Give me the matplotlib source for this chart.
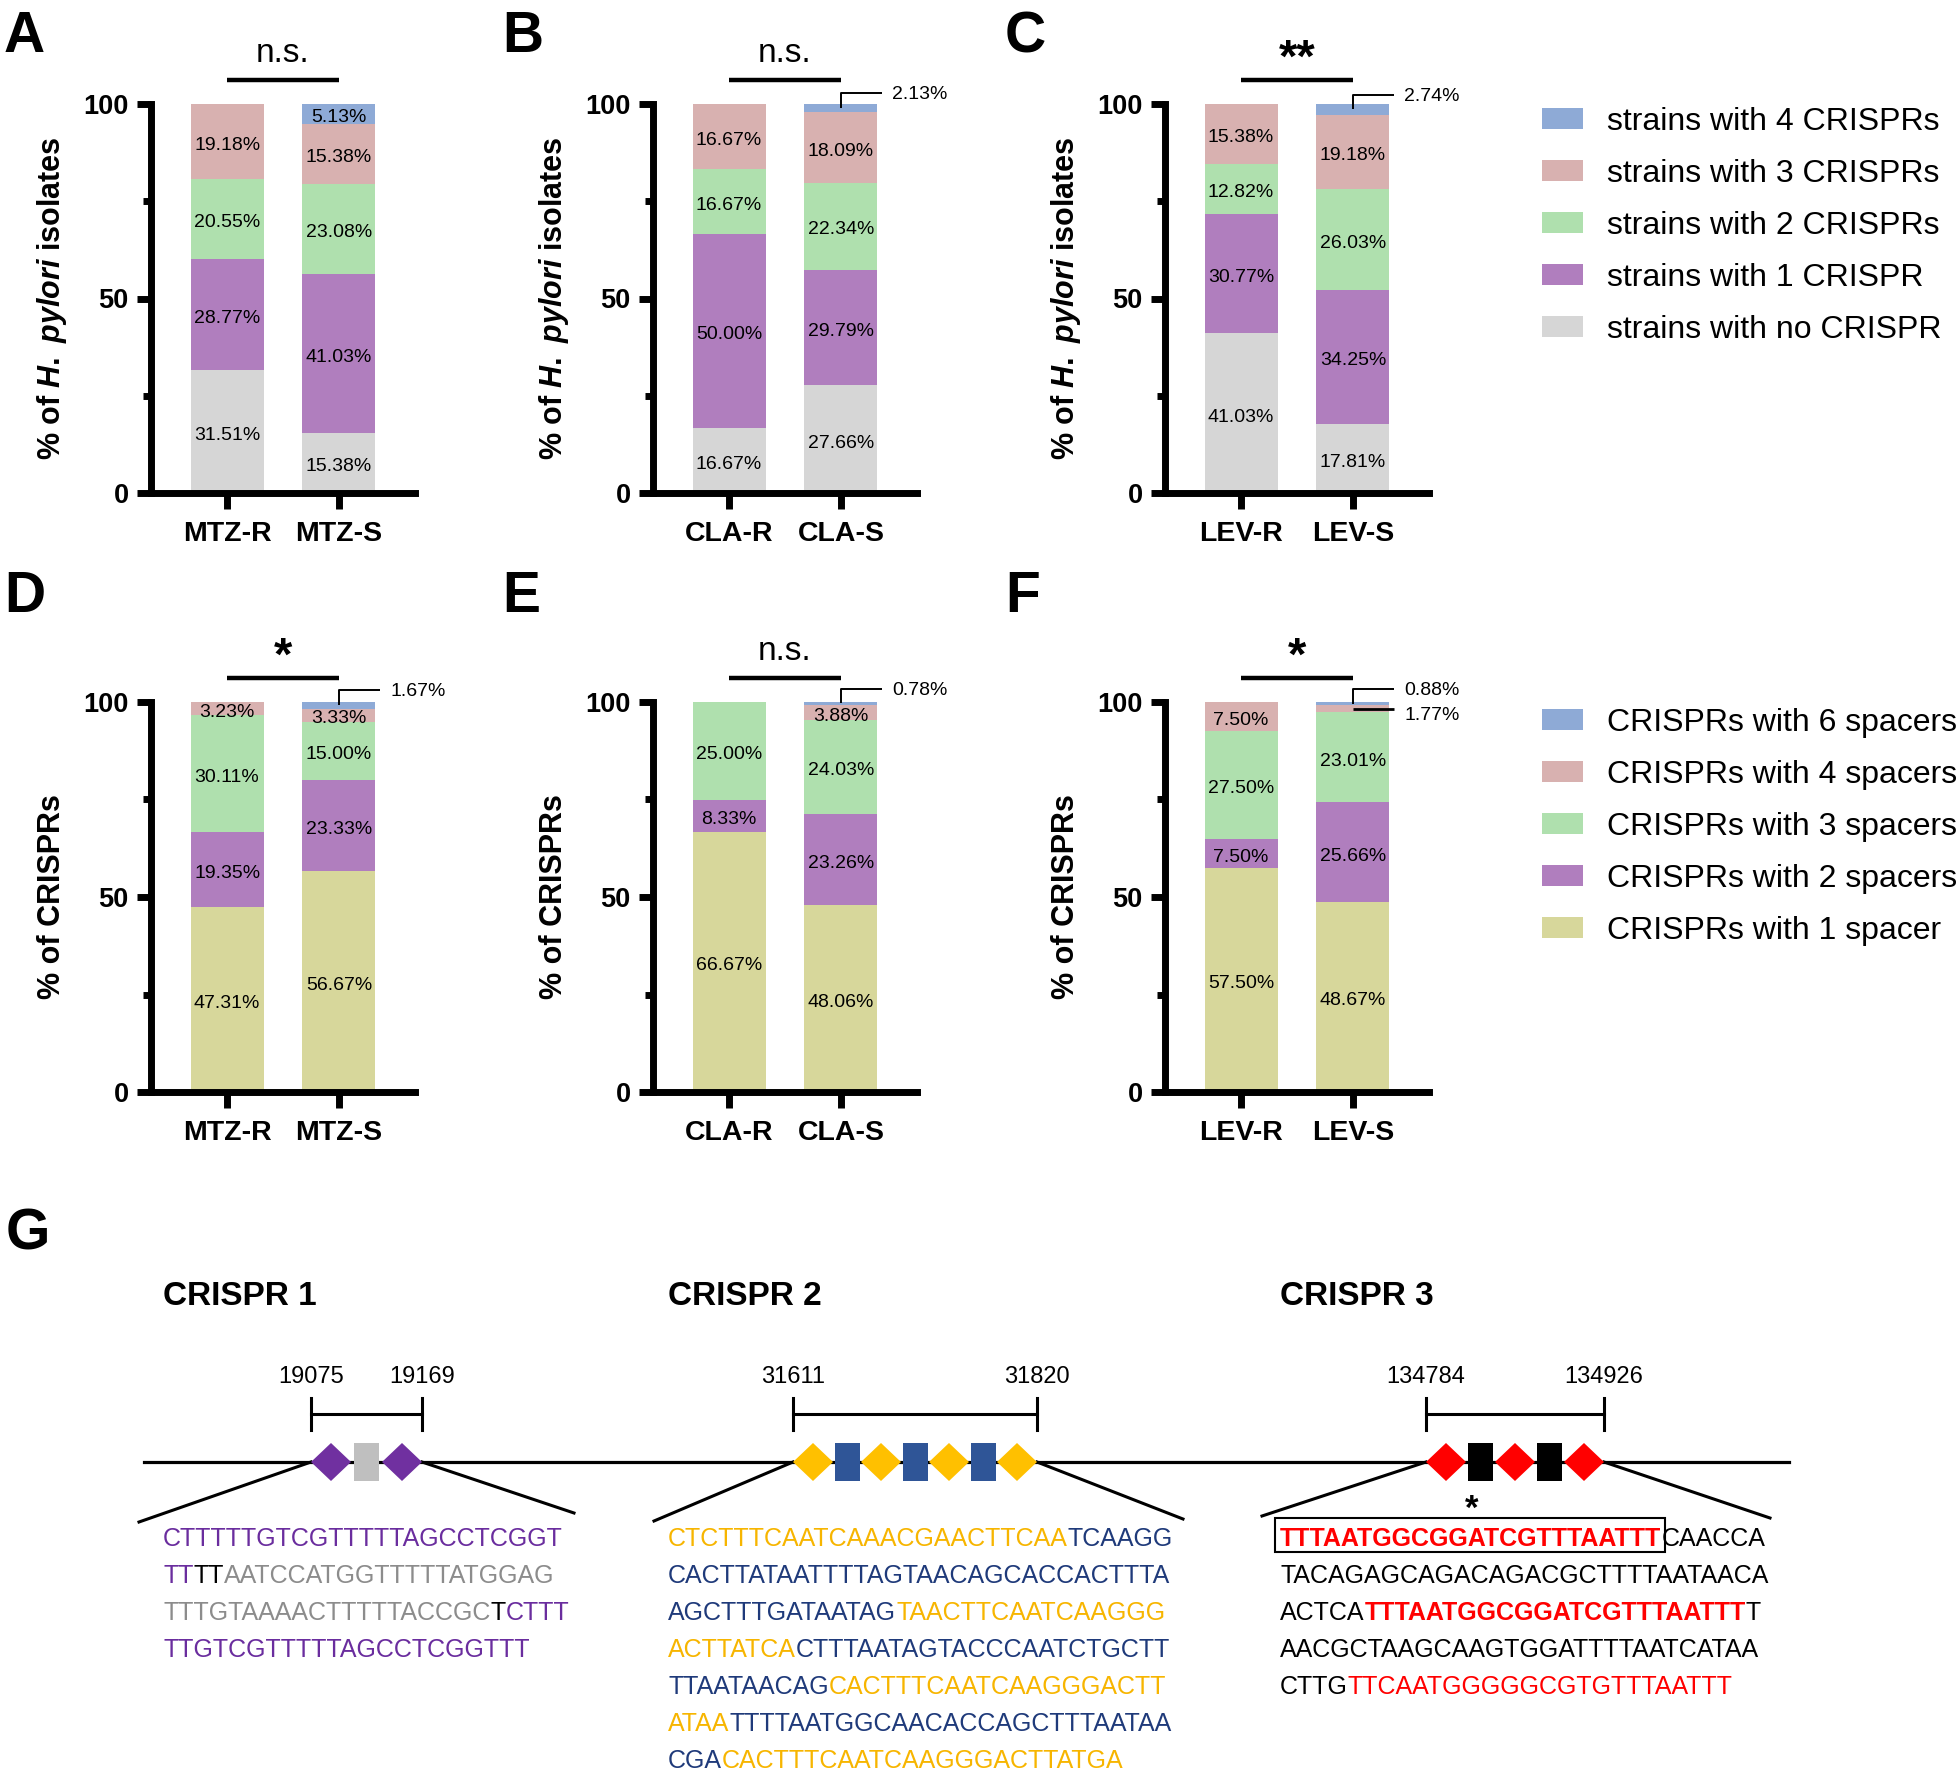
import numpy as np
import matplotlib
matplotlib.use('Agg')
import matplotlib.pyplot as plt
from matplotlib.patches import Patch, Polygon, Rectangle

plt.rcParams['font.family'] = 'Liberation Sans'
plt.rcParams['mathtext.fontset'] = 'custom'
plt.rcParams['mathtext.rm'] = 'Liberation Sans:bold'
plt.rcParams['mathtext.it'] = 'Liberation Sans:italic:bold'

W, H = 1960, 1772

# ---------------- data: stacked bars (stack order bottom -> top) ----------------
strain_labels = ['strains with no CRISPR', 'strains with 1 CRISPR', 'strains with 2 CRISPRs',
                 'strains with 3 CRISPRs', 'strains with 4 CRISPRs']
spacer_labels = ['CRISPRs with 1 spacer', 'CRISPRs with 2 spacers', 'CRISPRs with 3 spacers',
                 'CRISPRs with 4 spacers', 'CRISPRs with 6 spacers']
strain_colors = ['#d6d6d6', '#b07ebe', '#afe0ae', '#d8b1b0', '#8eaad6']
spacer_colors = ['#d7d79b', '#b07ebe', '#afe0ae', '#d8b1b0', '#8eaad6']

mtz = ['MTZ-R', 'MTZ-S']
cla = ['CLA-R', 'CLA-S']
lev = ['LEV-R', 'LEV-S']

# % of H. pylori isolates
mtz_strains = [[31.51, 28.77, 20.55, 19.18, 0.00],
               [15.38, 41.03, 23.08, 15.38, 5.13]]
cla_strains = [[16.67, 50.00, 16.67, 16.67, 0.00],
               [27.66, 29.79, 22.34, 18.09, 2.13]]
lev_strains = [[41.03, 30.77, 12.82, 15.38, 0.00],
               [17.81, 34.25, 26.03, 19.18, 2.74]]
# % of CRISPRs
mtz_spacers = [[47.31, 19.35, 30.11, 3.23, 0.00],
               [56.67, 23.33, 15.00, 3.33, 1.67]]
cla_spacers = [[66.67, 8.33, 25.00, 0.00, 0.00],
               [48.06, 23.26, 24.03, 3.88, 0.78]]
lev_spacers = [[57.50, 7.50, 27.50, 7.50, 0.00],
               [48.67, 25.66, 23.01, 1.77, 0.88]]

sig_strains = ['n.s.', 'n.s.', '**']
sig_spacers = ['*', 'n.s.', '*']

# ---------------- data: panel G ----------------
crispr_names = ['CRISPR 1', 'CRISPR 2', 'CRISPR 3']
crispr_start = ['19075', '31611', '134784']
crispr_end = ['19169', '31820', '134926']
crispr_units = ['RSR', 'RSRSRSR', 'RSRSR']   # R = repeat, S = spacer
repeat_col = ['#7030a0', '#ffc000', '#ff0000']
spacer_col = ['#bfbfbf', '#2f5597', '#000000']

PUR, GRY, ORG, NAV, RED, BLK = '#6a2d9e', '#8c8c8c', '#f7b500', '#1f3a7a', '#ff0000', '#000000'
seq1 = [[('CTTTTTGTCGTTTTTAGCCTCGGT', PUR, 'normal')],
        [('TT', PUR, 'normal'), ('TT', BLK, 'normal'), ('AATCCATGGTTTTTATGGAG', GRY, 'normal')],
        [('TTTGTAAAACTTTTTACCGC', GRY, 'normal'), ('T', BLK, 'normal'), ('CTTT', PUR, 'normal')],
        [('TTGTCGTTTTTAGCCTCGGTTT', PUR, 'normal')]]
seq2 = [[('CTCTTTCAATCAAACGAACTTCAA', ORG, 'normal'), ('TCAAGG', NAV, 'normal')],
        [('CACTTATAATTTTAGTAACAGCACCACTTTA', NAV, 'normal')],
        [('AGCTTTGATAATAG', NAV, 'normal'), ('TAACTTCAATCAAGGG', ORG, 'normal')],
        [('ACTTATCA', ORG, 'normal'), ('CTTTAATAGTACCCAATCTGCTT', NAV, 'normal')],
        [('TTAATAACAG', NAV, 'normal'), ('CACTTTCAATCAAGGGACTT', ORG, 'normal')],
        [('ATAA', ORG, 'normal'), ('TTTTAATGGCAACACCAGCTTTAATAA', NAV, 'normal')],
        [('CGA', NAV, 'normal'), ('CACTTTCAATCAAGGGACTTATGA', ORG, 'normal')]]
seq3 = [[('TTTAATGGCGGATCGTTTAATTT', RED, 'bold'), ('CAACCA', BLK, 'normal')],
        [('TACAGAGCAGACAGACGCTTTTAATAACA', BLK, 'normal')],
        [('ACTCA', BLK, 'normal'), ('TTTAATGGCGGATCGTTTAATTT', RED, 'bold'), ('T', BLK, 'normal')],
        [('AACGCTAAGCAAGTGGATTTTAATCATAA', BLK, 'normal')],
        [('CTTG', BLK, 'normal'), ('TTCAATGGGGGCGTGTTTAATTT', RED, 'normal')]]
sequences = [seq1, seq2, seq3]

fig = plt.figure(figsize=(W / 100, H / 100), dpi=100)

# overlay in pixel coordinates for letters and panel G
ov = fig.add_axes([0, 0, 1, 1])
ov.set_xlim(0, W)
ov.set_ylim(H, 0)
ov.axis('off')


def px_axes(x0, ytop, x1, ybot):
    return fig.add_axes([x0 / W, 1 - ybot / H, (x1 - x0) / W, (ybot - ytop) / H])


def draw_bars(ax, groups, values, colors, sig):
    vals = np.array(values)
    x = np.arange(len(groups))
    base = np.zeros(len(groups))
    for k in range(vals.shape[1]):
        ax.bar(x, vals[:, k], width=0.652, bottom=base, color=colors[k], linewidth=0)
        for i in range(len(groups)):
            v = vals[i, k]
            if v >= 3:
                ax.text(x[i], base[i] + v / 2 - 1.0, f'{v:.2f}%', ha='center', va='center', fontsize=14)
        base = base + vals[:, k]

    # call-outs for thin slices
    for i in range(len(groups)):
        centres = np.cumsum(vals[i]) - vals[i] / 2
        small = [k for k in range(vals.shape[1]) if 0 < vals[i, k] < 3]
        for k in small:
            yc = centres[k]
            lab = f'{vals[i, k]:.2f}%'
            if k == small[-1]:
                ax.plot([x[i], x[i], x[i] + 0.37], [yc, yc + 3.8, yc + 3.8], color='k', lw=1.4,
                        clip_on=False, solid_capstyle='butt')
                ax.text(x[i] + 0.46, yc + 3.4, lab, ha='left', va='center', fontsize=14, clip_on=False)
            else:
                ax.plot([x[i], x[i] + 0.37], [yc, yc], color='k', lw=2, clip_on=False,
                        solid_capstyle='butt')
                ax.text(x[i] + 0.46, yc - 1.6, lab, ha='left', va='center', fontsize=14, clip_on=False)

    ax.set_xlim(-0.68, 1.68)
    ax.set_ylim(0, 100)
    for s in ['top', 'right']:
        ax.spines[s].set_visible(False)
    for s in ['left', 'bottom']:
        ax.spines[s].set_linewidth(5)
    ax.set_yticks([0, 50, 100])
    ax.set_yticks([25, 75], minor=True)
    ax.set_yticklabels(['0', '50', '100'], fontsize=19.5, fontweight='bold')
    ax.set_xticks(x)
    ax.set_xticklabels(groups, fontsize=20.5, fontweight='bold')
    ax.tick_params(axis='y', which='major', length=10, width=5, pad=6)
    ax.tick_params(axis='y', which='minor', length=6, width=5)
    ax.tick_params(axis='x', length=11.5, width=5, pad=9)
    ax.patch.set_visible(False)

    # significance bar
    ax.plot([0, 1], [106.2, 106.2], color='k', lw=3.2, clip_on=False, solid_capstyle='butt')
    if '*' in sig:
        ax.text(0.5, 108.4, sig, ha='center', va='baseline', fontsize=34, fontweight='bold')
    else:
        ax.text(0.5, 110.8, sig, ha='center', va='baseline', fontsize=24)


col_off = [0, 502, 1014]
rows = [
    dict(top=104, bot=493, groups=[mtz, cla, lev], vals=[mtz_strains, cla_strains, lev_strains],
         colors=strain_colors, labels=strain_labels, sig=sig_strains,
         ylabel=r'% of $\mathit{H.\ pylori}$ isolates', letters='ABC', letter_y=52, leg_top=107),
    dict(top=702, bot=1092, groups=[mtz, cla, lev], vals=[mtz_spacers, cla_spacers, lev_spacers],
         colors=spacer_colors, labels=spacer_labels, sig=sig_spacers,
         ylabel='% of CRISPRs', letters='DEF', letter_y=612, leg_top=708),
]

for row in rows:
    for j, off in enumerate(col_off):
        ax = px_axes(151 + off, row['top'], 415 + off, row['bot'])
        draw_bars(ax, row['groups'][j], row['vals'][j], row['colors'], row['sig'][j])
        fig.text((52 + off) / W, 1 - (row['top'] + row['bot']) / 2 / H, row['ylabel'],
                 rotation=90, ha='center', va='center', fontsize=22, fontweight='bold')
        ov.text(4 + [0, 498, 1001][j], row['letter_y'], row['letters'][j], fontsize=41,
                fontweight='bold', ha='left', va='baseline')
    leg_handles = [Patch(facecolor=c, edgecolor='none') for c in row['colors']][::-1]
    fig.legend(leg_handles, row['labels'][::-1], loc='upper left',
               bbox_to_anchor=(1542 / W, 1 - row['leg_top'] / H), frameon=False, fontsize=23,
               handlelength=1.29, handleheight=0.63, labelspacing=0.69, handletextpad=0.75,
               borderpad=0, borderaxespad=0)

# ---------------- panel G ----------------
ov.text(6, 1249, 'G', fontsize=41, fontweight='bold', ha='left', va='baseline')

line_y = 1462
ov.plot([144, 1789], [line_y, line_y], color='k', lw=2.3, zorder=1)

spans = [(311, 422), (793, 1037), (1426, 1604)]
text_x = [163, 668, 1280]
fan_ends = [((139, 1522), (574, 1513)), ((654, 1521), (1183, 1519)), ((1262, 1516), (1770, 1518))]
seq_size = 18


def seq_line(x, y, parts):
    txt, col, wt = parts[0]
    first = ov.text(x, y, txt, color=col, fontweight=wt, fontsize=seq_size, ha='left', va='baseline')
    prev = first
    for txt, col, wt in parts[1:]:
        prev = ov.annotate(txt, xy=(1, 0), xycoords=prev, ha='left', va='bottom', color=col,
                           fontweight=wt, fontsize=seq_size)
    return first


boxed = None
for c in range(3):
    x0, x1 = spans[c]
    ov.text(text_x[c], 1305, crispr_names[c], fontsize=24, fontweight='bold', ha='left', va='baseline')
    ov.text(x0, 1383, crispr_start[c], fontsize=17, ha='center', va='baseline')
    ov.text(x1, 1383, crispr_end[c], fontsize=17, ha='center', va='baseline')
    ov.plot([x0, x0], [1398, 1430], color='k', lw=2.2)
    ov.plot([x1, x1], [1398, 1430], color='k', lw=2.2)
    ov.plot([x0, x1], [1414, 1414], color='k', lw=2.2)

    units = crispr_units[c]
    widths = [40 if u == 'R' else 25 for u in units]
    gap = (x1 - x0 - sum(widths)) / (len(units) - 1)
    pos = x0
    for u, w in zip(units, widths):
        if u == 'R':
            ov.add_patch(Polygon([(pos, line_y), (pos + w / 2, line_y - 19), (pos + w, line_y),
                                  (pos + w / 2, line_y + 19)], closed=True, fc=repeat_col[c],
                                 ec='none', zorder=3))
        else:
            ov.add_patch(Rectangle((pos, line_y - 19), w, 38, fc=spacer_col[c], ec='none', zorder=3))
        pos += w + gap

    (lx, ly), (rx, ry) = fan_ends[c]
    ov.plot([x0, lx], [line_y, ly], color='k', lw=2.2)
    ov.plot([x1, rx], [line_y, ry], color='k', lw=2.2)

    for n, parts in enumerate(sequences[c]):
        t = seq_line(text_x[c], 1546 + 37 * n, parts)
        if c == 2 and n == 0:
            boxed = t

ov.text(1472, 1519, '*', fontsize=25, fontweight='bold', ha='center', va='baseline')

# frame around the first repeat of CRISPR 3
fig.canvas.draw()
bb = boxed.get_window_extent()
inv = ov.transData.inverted()
(bx0, _), (bx1, _) = inv.transform([[bb.x0, bb.y0], [bb.x1, bb.y1]])
ov.add_patch(Rectangle((bx0 - 5, 1518), (bx1 - bx0) + 9, 34, fc='none', ec='black', lw=1.5, zorder=4))

fig.savefig('out.png', dpi=100)
